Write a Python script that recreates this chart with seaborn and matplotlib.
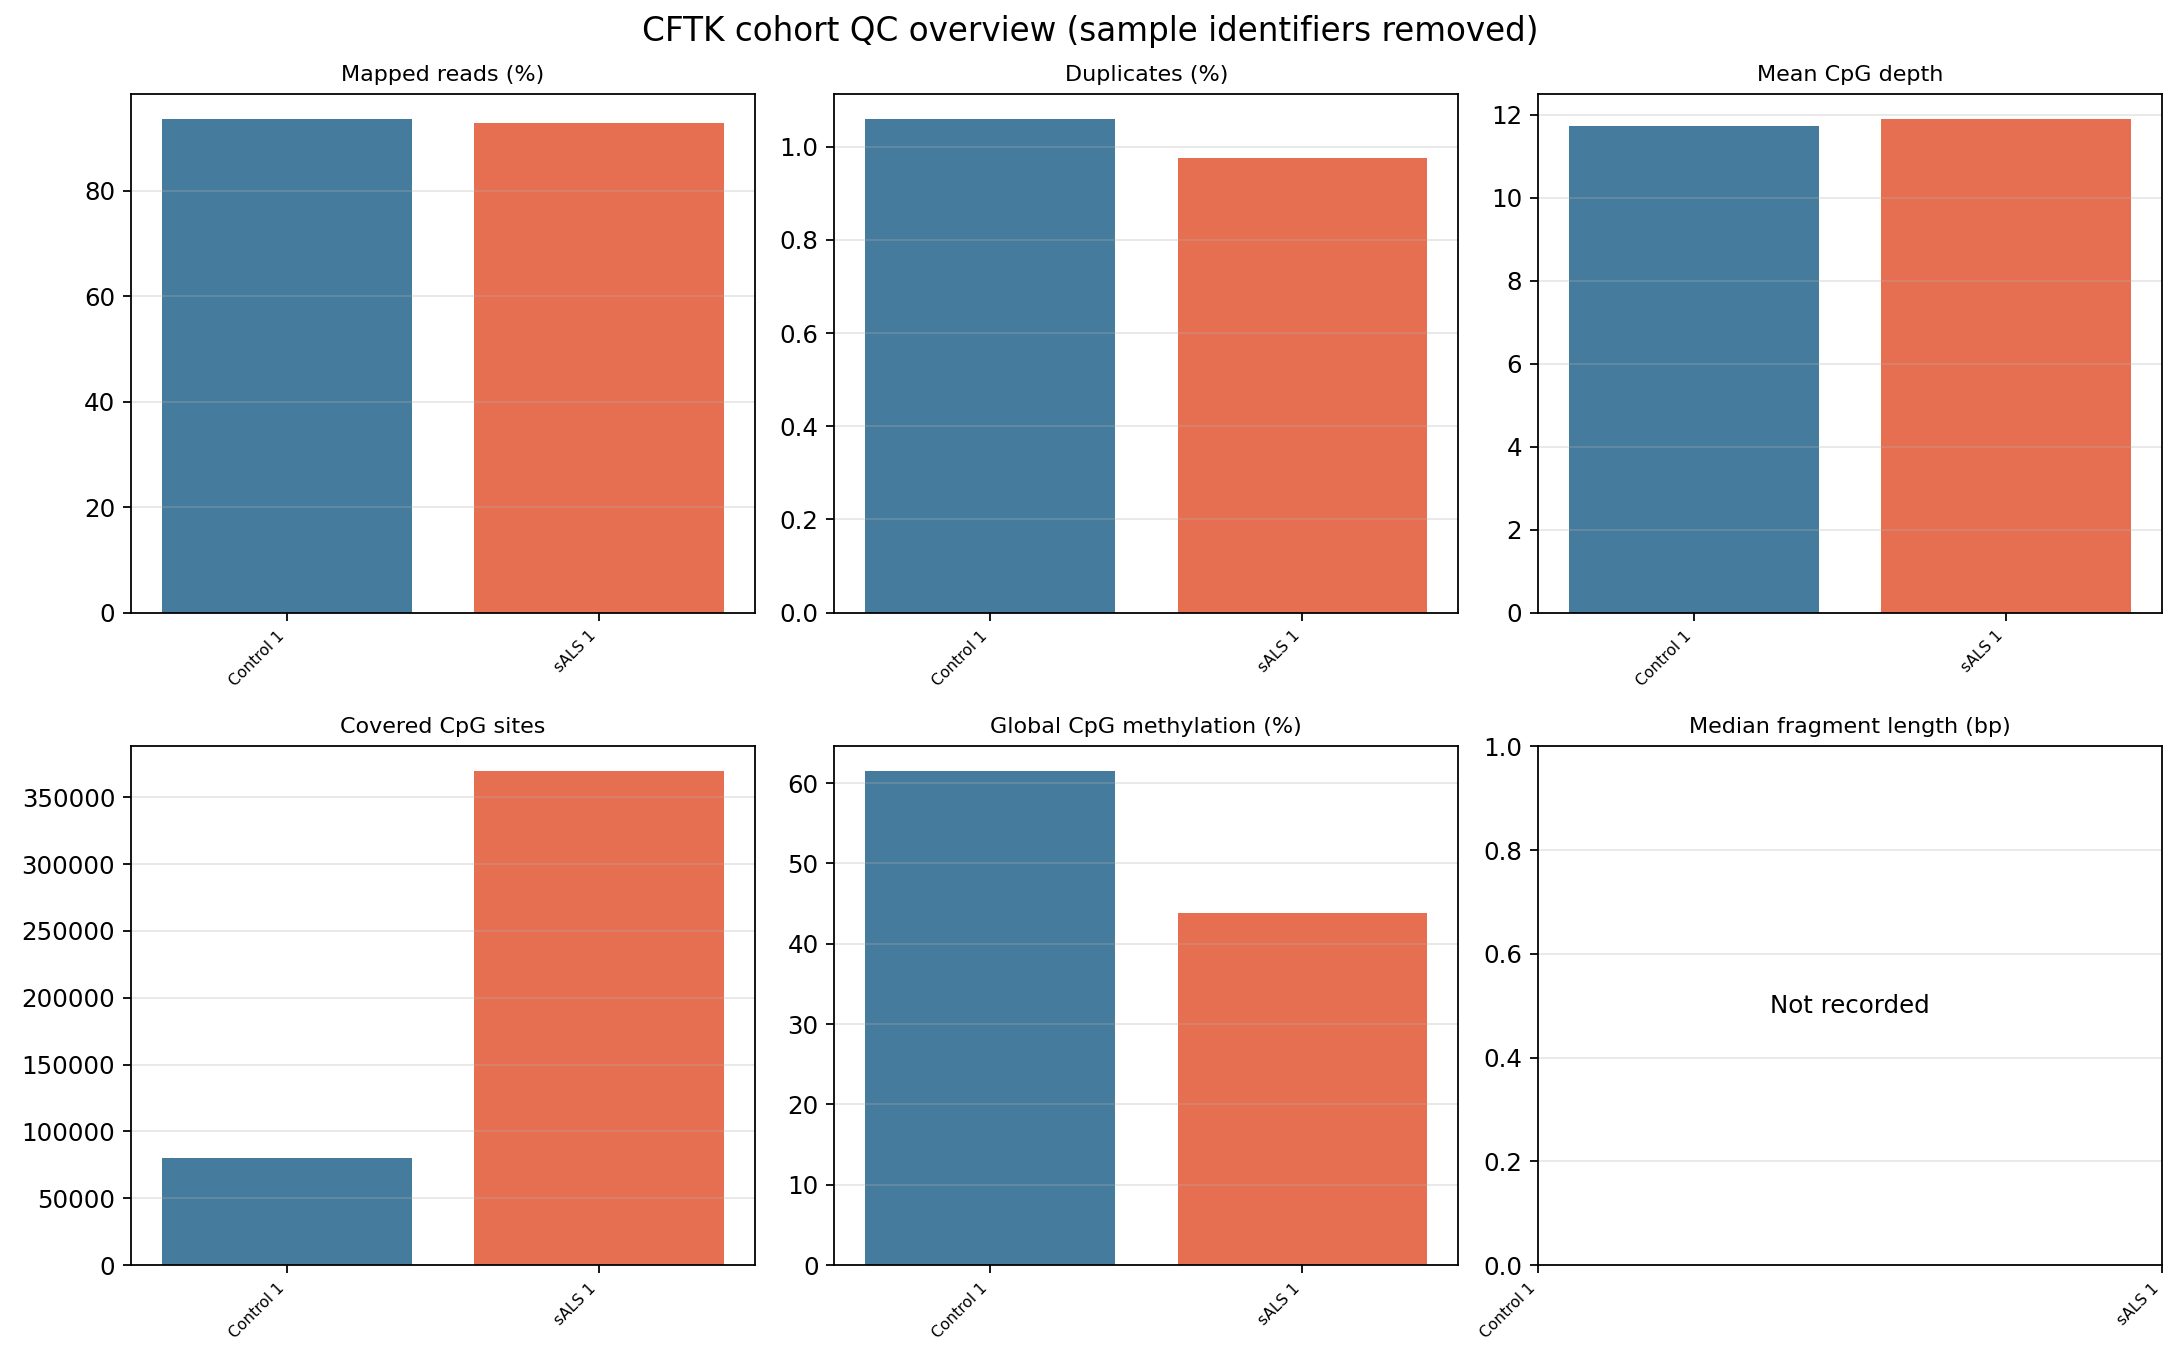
import pandas as pd
import matplotlib
matplotlib.use("Agg")
import matplotlib.pyplot as plt
import seaborn as sns

# Data
samples = ["Control 1", "sALS 1"]
bar_colors = ["#457b9d", "#e76f51"]

metric_titles = [
    "Mapped reads (%)",
    "Duplicates (%)",
    "Mean CpG depth",
    "Covered CpG sites",
    "Global CpG methylation (%)",
    "Median fragment length (bp)",
]
mapped_reads = [93.7, 92.8]
duplicates = [1.060, 0.976]
mean_depth = [11.73, 11.90]
covered_sites = [80000, 369500]
global_meth = [61.5, 43.8]
fragment_length = [None, None]  # not recorded

metric_values = [mapped_reads, duplicates, mean_depth,
                 covered_sites, global_meth, fragment_length]


def make_figure():
    fig, axes = plt.subplots(2, 3, figsize=(13.625, 8.5625), dpi=160)
    fig.subplots_adjust(left=0.060, right=0.9917, top=0.9314, bottom=0.0766,
                        wspace=0.127, hspace=0.258)

    for ax, title, values in zip(axes.flat, metric_titles, metric_values):
        if all(v is None for v in values):
            ax.text(0.5, 0.5, "Not recorded", transform=ax.transAxes,
                    ha="center", va="center", fontsize=11)
        else:
            df = pd.DataFrame({"sample": samples, "value": values})
            sns.barplot(data=df, x="sample", y="value", hue="sample",
                        palette=bar_colors, saturation=1, legend=False, ax=ax)
        ax.set_xticks(range(len(samples)))
        ax.set_xticklabels(samples, rotation=45, ha="right", fontsize=7)
        ax.tick_params(axis="y", labelsize=11)
        ax.set_title(title, fontsize=10)
        ax.set_xlabel("")
        ax.set_ylabel("")
        ax.grid(axis="y", alpha=0.3)

    fig.suptitle("CFTK cohort QC overview (sample identifiers removed)",
                 fontsize=14.7, y=0.977, va="center")
    fig.savefig("out.png", dpi=160)
    plt.close(fig)


if __name__ == "__main__":
    make_figure()
